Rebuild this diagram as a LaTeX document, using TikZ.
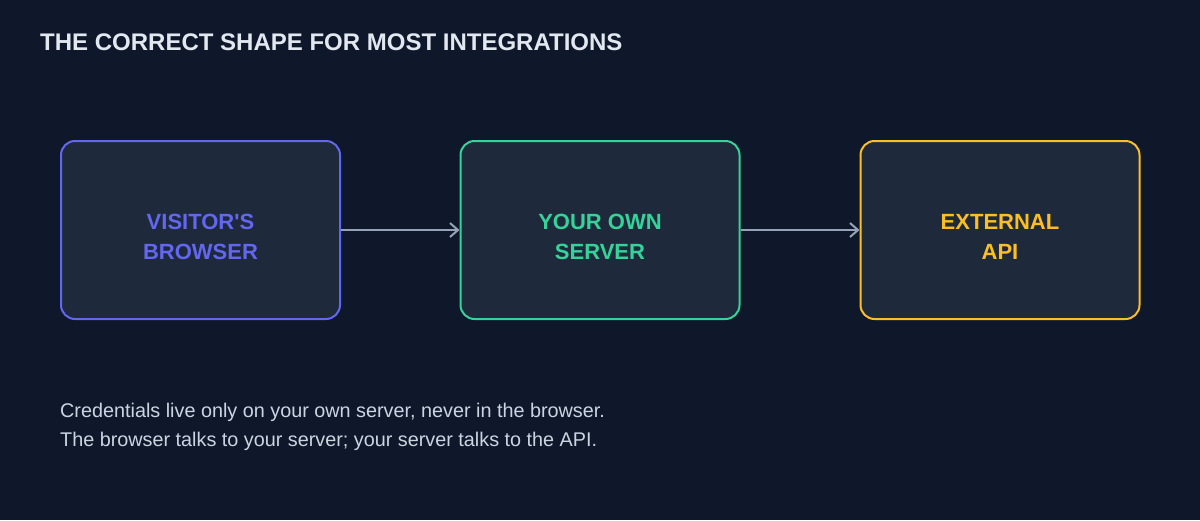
\documentclass[tikz,border=0pt]{standalone}
\usepackage{fontspec}
\setmainfont{Liberation Sans}
\usetikzlibrary{arrows.meta}
\definecolor{bg}{HTML}{0F172A}
\definecolor{boxfill}{HTML}{1E293B}
\definecolor{cblue}{HTML}{6366F1}
\definecolor{cgreen}{HTML}{34D399}
\definecolor{cyellow}{HTML}{FBBF24}
\definecolor{carrow}{HTML}{94A3B8}
\definecolor{ctitle}{HTML}{E2E8F0}
\definecolor{ctext}{HTML}{CBD5E1}
\begin{document}
\begin{tikzpicture}[x=1pt,y=-1pt,
  box/.style={draw=#1,line width=2pt,fill=boxfill,rounded corners=14pt,minimum width=279pt,minimum height=178pt,inner sep=0pt},
  lbl/.style={text=#1,font=\fontsize{22}{30}\selectfont\bfseries,align=center,inner sep=0pt},
  conn/.style={draw=carrow,line width=2pt,-{Straight Barb[length=8pt,width=14pt]}},
  foot/.style={text=ctext,font=\fontsize{19.8}{22}\selectfont,anchor=west,inner sep=0pt}]
\useasboundingbox[fill=bg] (0,0) rectangle (1200,520);
\node[anchor=west,text=ctitle,font=\fontsize{24}{28}\selectfont\bfseries,inner sep=0pt] (title) at (40,42) {THE CORRECT SHAPE FOR MOST INTEGRATIONS};
\node[box=cblue] (browser) at (200.5,230) {};
\node[box=cgreen] (server) at (600,230) {};
\node[box=cyellow] (api) at (1000,230) {};
\node[lbl=cblue] (lb) at (200.5,237) {VISITOR\textquotesingle S\\BROWSER};
\node[lbl=cgreen] (ls) at (600,237) {YOUR OWN\\SERVER};
\node[lbl=cyellow] (la) at (1000,237) {EXTERNAL\\API};
\draw[conn] (browser.east) -- (server.west);
\draw[conn] (server.east) -- (api.west);
\node[foot] (f1) at (60,412) {Credentials live only on your own server, never in the browser.};
\node[foot] (f2) at (60,441) {The browser talks to your server; your server talks to the API.};
\end{tikzpicture}
\end{document}
